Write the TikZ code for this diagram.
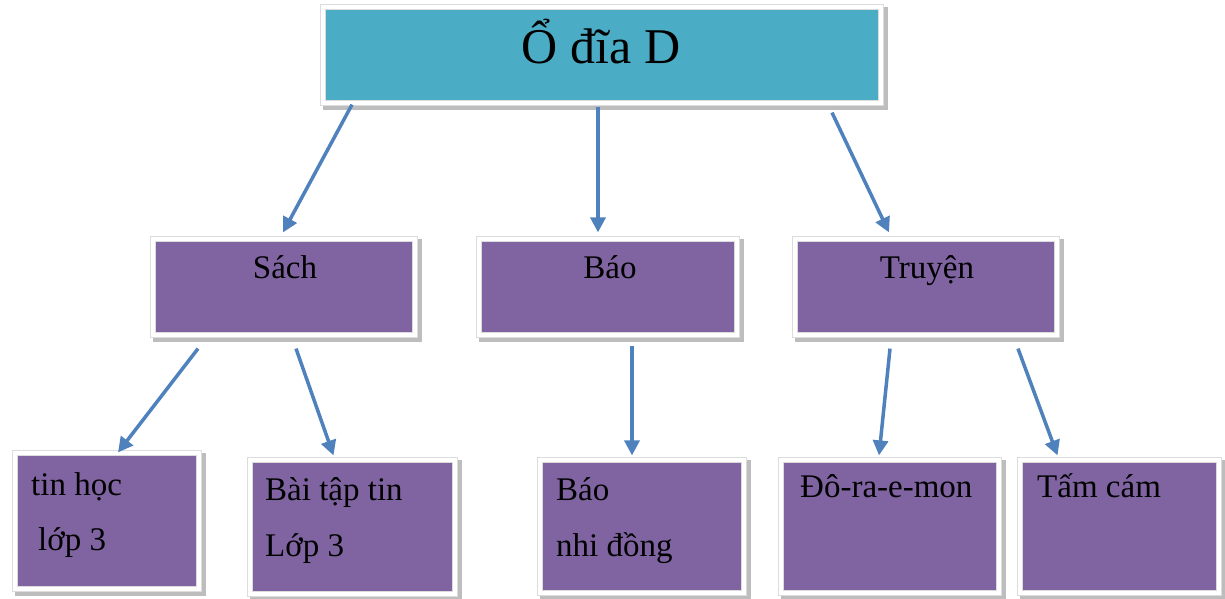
\documentclass[tikz,border=0pt]{standalone}
\usepackage{fontspec}
\setmainfont{Liberation Serif}
\usetikzlibrary{arrows.meta,backgrounds}
\definecolor{teal}{HTML}{4BACC6}
\definecolor{purp}{HTML}{8064A2}
\definecolor{arrowblue}{HTML}{4F81BD}
\definecolor{edge}{HTML}{DCDCDC}
\definecolor{shade}{HTML}{BDBDBD}
\tikzset{
  box/.style={rectangle, inner sep=0pt, draw=edge, line width=0.8pt, double=white, double distance=4pt},
  topbox/.style={box, fill=teal},
  pbox/.style={box, fill=purp},
  shadowbox/.style={fill=shade},
  lbl/.style={inner sep=0pt, anchor=base west, font=\fontsize{33}{40}\selectfont},
  clbl/.style={inner sep=0pt, anchor=base, font=\fontsize{33}{40}\selectfont},
  arr/.style={draw=arrowblue, line width=3.5pt, -{Triangle[length=15pt,width=15pt]}}
}
\begin{document}
\begin{tikzpicture}[x=1pt,y=-1pt]
\useasboundingbox (0,0) rectangle (1225,598);
% boxes (center, size = outer - 5.6)
\node[topbox, minimum width=558.4pt, minimum height=96.4pt] (top) at (602,55) {};
\node[pbox, minimum width=262.4pt, minimum height=96.4pt] (sach) at (284,287) {};
\node[pbox, minimum width=258.4pt, minimum height=96.4pt] (bao) at (608,287) {};
\node[pbox, minimum width=262.4pt, minimum height=96.4pt] (truyen) at (926,287) {};
\node[pbox, minimum width=184.4pt, minimum height=136.4pt] (tinhoc) at (107,521) {};
\node[pbox, minimum width=205.4pt, minimum height=134.4pt] (baitap) at (352.5,527) {};
\node[pbox, minimum width=204.4pt, minimum height=133.4pt] (baonhi) at (642,526.5) {};
\node[pbox, minimum width=218.4pt, minimum height=133.4pt] (dora) at (890,526.5) {};
\node[pbox, minimum width=199.4pt, minimum height=133.4pt] (tam) at (1119.5,526.5) {};
% shadows
\begin{scope}[on background layer]
\foreach \n in {top,sach,bao,truyen,tinhoc,baitap,baonhi,dora,tam}
  \fill[shadowbox] ([shift={(1,1)}]\n.north west) rectangle ([shift={(6,6)}]\n.south east);
\end{scope}
% texts
\node[inner sep=0pt, anchor=base, font=\fontsize{50}{60}\selectfont] (ttop) at (601,63) {Ổ đĩa D};
\node[clbl] (tsach) at (285,278) {Sách};
\node[clbl] (tbao) at (610,278) {Báo};
\node[clbl] (ttruyen) at (927,278) {Truyện};
\node[lbl] (t1a) at (31,495) {tin học};
\node[lbl] (t1b) at (38,550) {lớp 3};
\node[lbl] (t2a) at (265,500) {Bài tập tin};
\node[lbl] (t2b) at (265,556) {Lớp 3};
\node[lbl] (t3a) at (556,500) {Báo};
\node[lbl] (t3b) at (556,556) {nhi đồng};
\node[lbl] (t4) at (800,497) {Đô-ra-e-mon};
\node[lbl] (t5) at (1037,497) {Tấm cám};
% arrows
\draw[arr] ([shift={(-250,1)}]top.south) -- ([shift={(-1,-6)}]sach.north);
\draw[arr] ([shift={(-4,3)}]top.south) -- ([shift={(-10,-6)}]bao.north);
\draw[arr] ([shift={(230,9)}]top.south) -- ([shift={(-37,-6)}]truyen.north);
\draw[arr] ([shift={(-86,13)}]sach.south) -- ([shift={(11,0)}]tinhoc.north);
\draw[arr] ([shift={(12,13)}]sach.south) -- ([shift={(-19,-4)}]baitap.north);
\draw[arr] ([shift={(24,10)}]bao.south) -- ([shift={(-10,-4)}]baonhi.north);
\draw[arr] ([shift={(-36,13)}]truyen.south) -- ([shift={(-11,-4)}]dora.north);
\draw[arr] ([shift={(92,13)}]truyen.south) -- ([shift={(-62,-4)}]tam.north);
\end{tikzpicture}
\end{document}
